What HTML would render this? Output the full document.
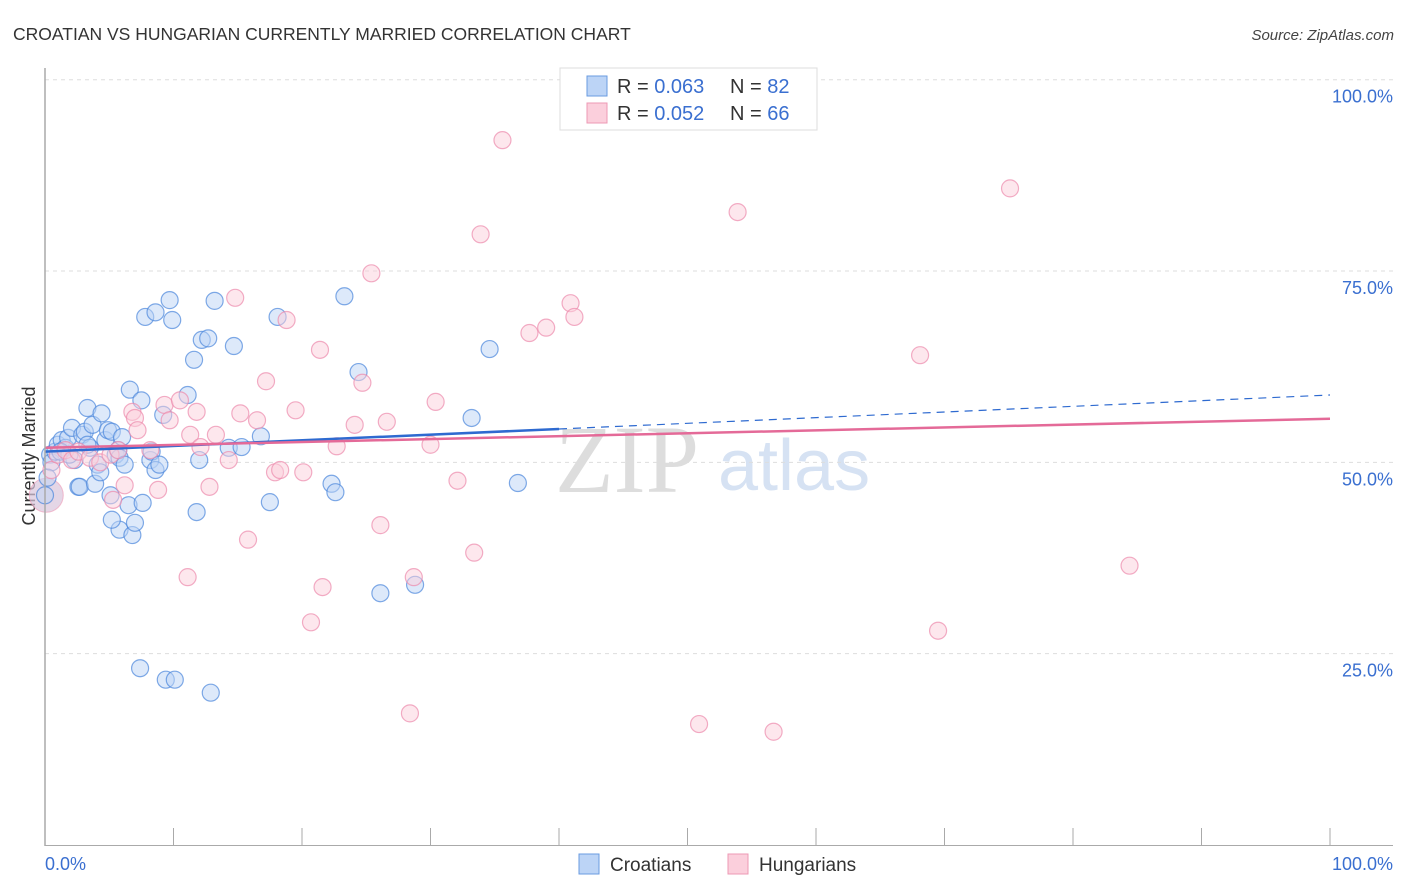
<!DOCTYPE html>
<html><head><meta charset="utf-8"><style>
body{margin:0;background:#fff;font-family:"Liberation Sans",sans-serif;}
#wrap{position:relative;width:1406px;height:892px;overflow:hidden;}
</style></head><body>
<div id="wrap">
<svg id="svg" width="1406" height="892">
<text x="13" y="40" font-size="17.5" fill="#333">CROATIAN VS HUNGARIAN CURRENTLY MARRIED CORRELATION CHART</text>
<text x="1394" y="40" font-size="15" fill="#444" font-style="italic" text-anchor="end">Source: ZipAtlas.com</text>
<text x="35" y="456" font-size="18" fill="#333" text-anchor="middle" transform="rotate(-90 35 456)">Currently Married</text>
<text x="555" y="492" font-size="96" fill="#ddd" font-family="Liberation Serif">ZIP</text>
<text x="718" y="490" font-size="72" fill="#d6e2f3">atlas</text>
<g id="grid"></g><g id="pts"></g><g id="lines"></g>
<line x1="45" y1="68" x2="45" y2="846" stroke="#aaa" stroke-width="1.5"/>
<line x1="45" y1="845.5" x2="1393" y2="845.5" stroke="#aaa" stroke-width="1"/>
<text x="45" y="870" font-size="18" fill="#3a6fd0">0.0%</text>
<text x="1393" y="870" font-size="18" fill="#3a6fd0" text-anchor="end">100.0%</text>
<g>
<rect x="560" y="68" width="257" height="62" fill="#fff" stroke="#ddd"/>
<rect x="587" y="76" width="20" height="20" fill="#bcd4f6" stroke="#6a9be0"/>
<rect x="587" y="103" width="20" height="20" fill="#fbcfdc" stroke="#ee98b4"/>
<text x="617" y="93" font-size="20" fill="#333">R = <tspan fill="#3a6fd0">0.063</tspan></text>
<text x="730" y="93" font-size="20" fill="#333">N = <tspan fill="#3a6fd0">82</tspan></text>
<text x="617" y="120" font-size="20" fill="#333">R = <tspan fill="#3a6fd0">0.052</tspan></text>
<text x="730" y="120" font-size="20" fill="#333">N = <tspan fill="#3a6fd0">66</tspan></text>
</g>
<g><rect x="579" y="854" width="20" height="20" fill="#bcd4f6" stroke="#6a9be0"/><text x="610" y="871" font-size="19" fill="#333">Croatians</text></g>
<g><rect x="728" y="854" width="20" height="20" fill="#fbcfdc" stroke="#ee98b4"/><text x="759" y="871" font-size="19" fill="#333">Hungarians</text></g>
</svg></div>
<script>
const yTicks=[25,50,75,100];
const yTickLabels=["25.0%","50.0%","75.0%","100.0%"];
const xTicks=[0,10,20,30,40,50,60,70,80,90,100];
const blueX=[0.4,0.5,0.8,1.0,1.3,1.6,1.8,2.1,2.3,2.6,2.7,2.9,3.1,3.3,3.5,3.7,3.9,4.1,4.3,4.4,4.7,4.9,5.1,5.2,5.5,5.7,5.8,6.0,6.2,6.5,6.6,5.8,6.8,7.0,7.4,7.6,7.5,7.8,8.2,8.3,8.6,8.6,8.9,9.2,9.4,9.7,9.9,10.1,11.1,11.6,11.8,12.0,12.2,12.7,12.9,13.2,14.7,14.3,15.3,16.8,17.5,18.1,22.3,22.6,23.3,24.4,26.1,28.8,33.2,34.6,36.8,0.2,0,1.2,1.9,3.3,5.2];
const blueY=[51.0,50.0,51.4,52.3,52.9,51.9,53.2,54.5,50.3,46.8,46.8,53.6,54.0,57.1,51.9,54.9,47.2,49.7,48.7,56.4,52.9,54.2,45.7,54.0,51.0,51.6,50.6,53.3,49.7,44.4,59.5,41.2,40.5,42.1,23.1,44.7,58.1,69.0,50.3,51.4,49.0,69.6,49.7,56.2,21.6,71.2,68.6,21.6,58.8,63.4,43.5,50.3,66.0,66.2,19.9,71.1,65.2,51.9,52.0,53.4,44.8,69.0,47.2,46.1,71.7,61.8,32.9,34.0,55.8,64.8,47.3,48.0,45.7,51.4,51.0,52.3,42.5];
const pinkX=[0.5,1.0,1.6,2.1,2.6,3.5,4.3,5.1,5.3,5.7,6.2,6.8,7.0,7.2,8.2,8.8,9.3,9.7,10.5,11.1,11.3,11.8,12.1,12.8,13.3,14.3,14.8,15.2,15.8,16.5,17.2,17.9,18.3,18.8,19.5,20.1,20.7,21.4,21.6,22.7,24.1,24.7,25.4,26.1,26.6,28.4,28.7,30.0,30.4,32.1,33.4,33.9,35.6,37.7,39.0,40.9,41.2,50.9,53.9,56.7,68.1,69.5,75.1,84.4];
const pinkY=[49.0,51.0,51.6,50.3,51.4,50.6,50.0,51.0,45.1,51.6,47.0,56.6,55.8,54.2,51.6,46.4,57.5,55.5,58.1,35.0,53.6,56.6,52.0,46.8,53.6,50.3,71.5,56.4,39.9,55.5,60.6,48.7,49.0,68.6,56.8,48.7,29.1,64.7,33.7,52.1,54.9,60.4,74.7,41.8,55.3,17.2,35.0,52.3,57.9,47.6,38.2,79.8,92.1,66.9,67.6,70.8,69.0,15.8,82.7,14.8,64.0,28.0,85.8,36.5];
const bigPoint=[0.1,45.7];
const blueTrend=[51.4,58.8];
const pinkTrend=[51.9,55.7];
const blueSolidEnd=40;
const NS="http://www.w3.org/2000/svg";
const sx=v=>45+v*12.85, sy=v=>845-v*7.653;
function mk(t,a,p){const e=document.createElementNS(NS,t);for(const k in a)e.setAttribute(k,a[k]);p.appendChild(e);return e;}
const grid=document.getElementById('grid'),pts=document.getElementById('pts'),lines=document.getElementById('lines'),svg=document.getElementById('svg');
yTicks.forEach((t,i)=>{
 const l=mk('line',{x1:45,x2:1393,y1:sy(t),y2:sy(t),stroke:'#ddd','stroke-dasharray':'4,4'},grid);
 
 
 const tx=mk('text',{x:1393,y:sy(t)+23,'font-size':18,fill:'#3a6fd0','text-anchor':'end'},svg);
 tx.textContent=yTickLabels[i];
 
 
});
xTicks.forEach(t=>{
 const l=mk('line',{x1:sx(t),x2:sx(t),y1:828,y2:845,stroke:'#aaa'},grid);
 
 
});
function dot(x,y,r,fill,stroke,name){
 const c=mk('circle',{cx:sx(x),cy:sy(y),r:r,fill:fill,'fill-opacity':0.5,stroke:stroke,'stroke-opacity':0.7,'stroke-width':1.2},pts);
 
 
}
const bc=mk('circle',{cx:sx(bigPoint[0]),cy:sy(bigPoint[1]),r:17,fill:'#d9c4dc','fill-opacity':0.7,stroke:'#ee98b4','stroke-opacity':0.6},pts);


blueX.forEach((x,i)=>dot(x,blueY[i],8.5,'#bcd4f6','#4a86dc','croatian-point'));
pinkX.forEach((x,i)=>dot(x,pinkY[i],8.5,'#fbcfdc','#ec8aac','hungarian-point'));
const by=x=>blueTrend[0]+(blueTrend[1]-blueTrend[0])*x/100;
const py=x=>pinkTrend[0]+(pinkTrend[1]-pinkTrend[0])*x/100;
let l=mk('line',{x1:sx(0),y1:sy(by(0)),x2:sx(blueSolidEnd),y2:sy(by(blueSolidEnd)),stroke:'#2e6ad0','stroke-width':2.5},lines);


l=mk('line',{x1:sx(blueSolidEnd),y1:sy(by(blueSolidEnd)),x2:sx(100),y2:sy(by(100)),stroke:'#2e6ad0','stroke-width':1.2,'stroke-dasharray':'8,6'},lines);


l=mk('line',{x1:sx(0),y1:sy(py(0)),x2:sx(100),y2:sy(py(100)),stroke:'#e46a98','stroke-width':2.5},lines);


</script>
</body></html>
